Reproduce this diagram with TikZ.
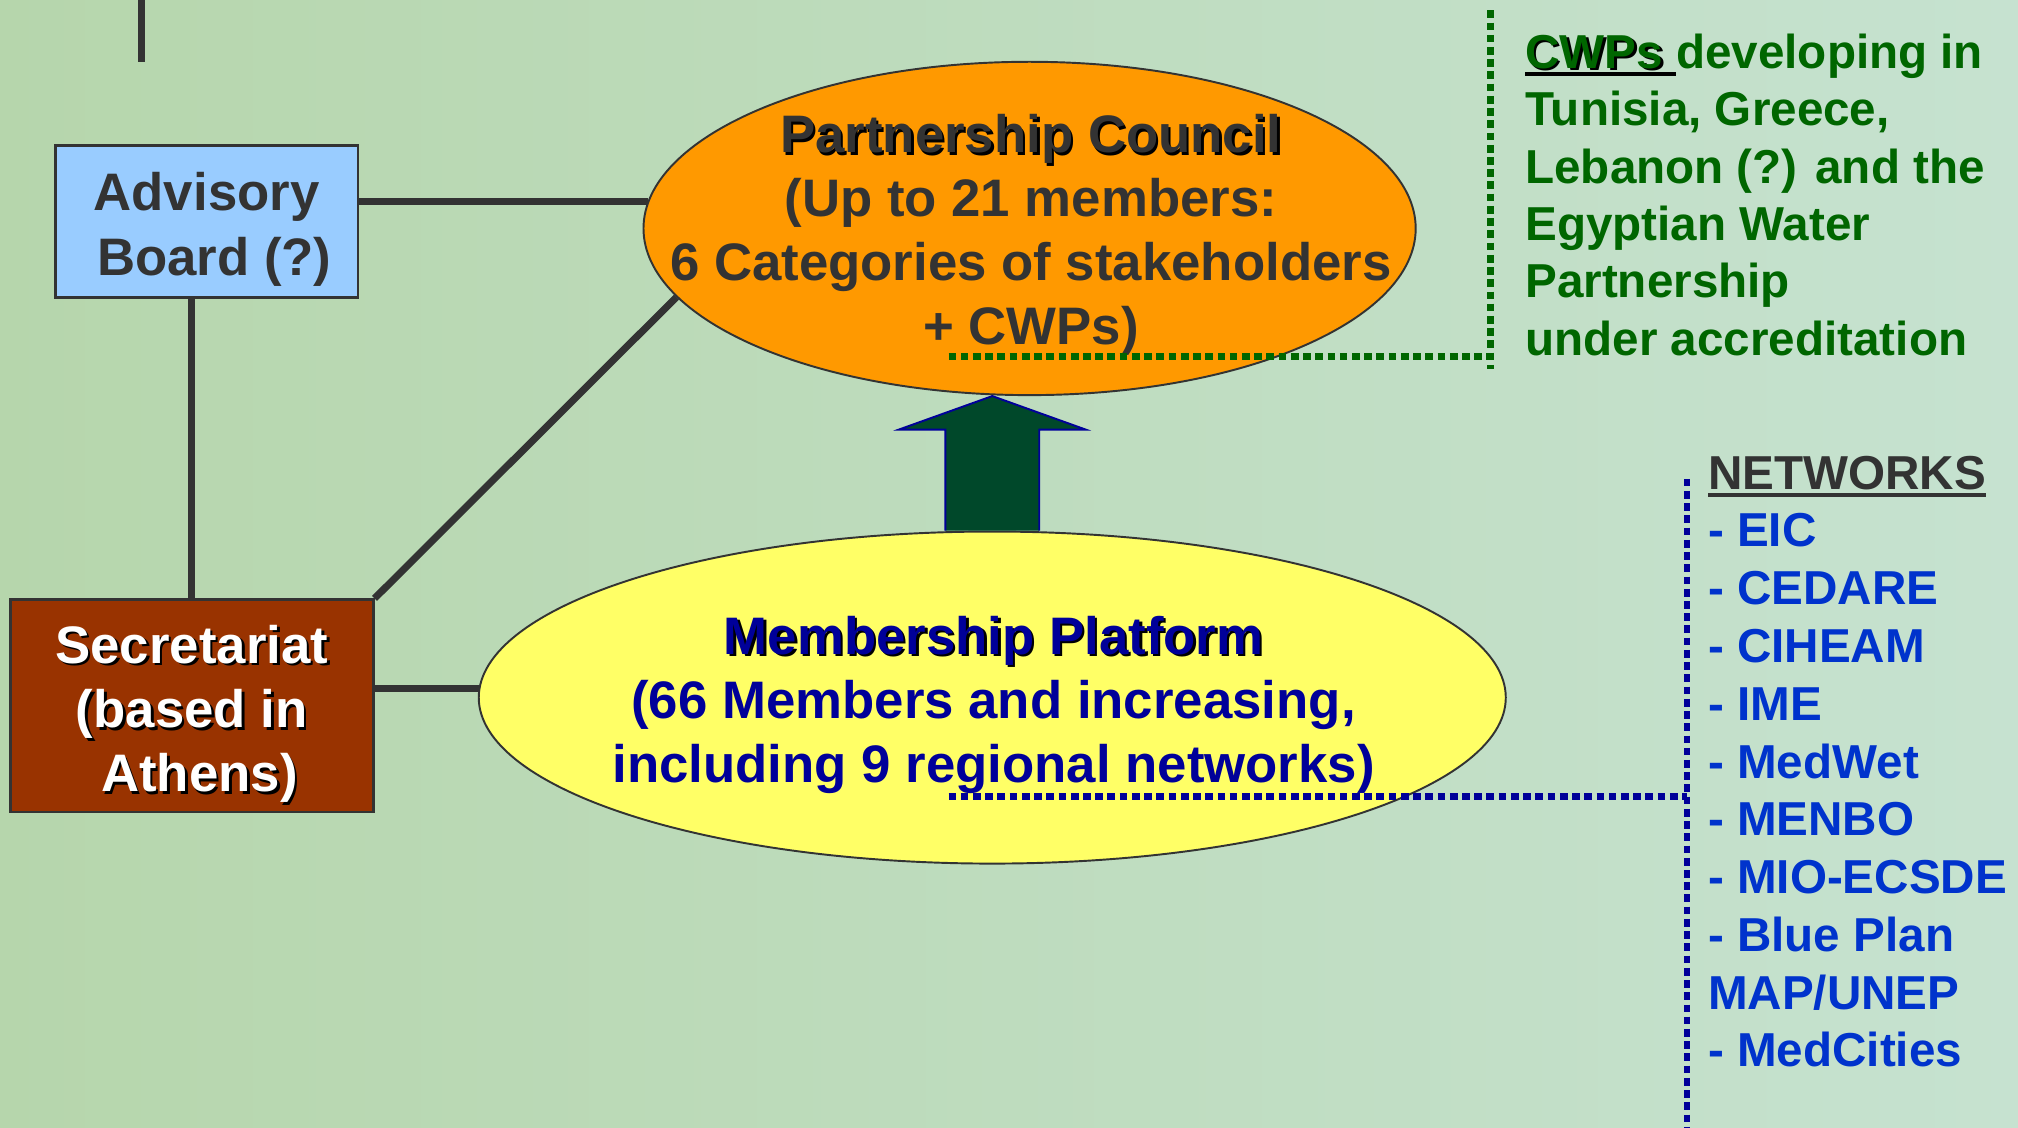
\documentclass[tikz,border=0pt]{standalone}
\usepackage{fontspec}
\setmainfont{Liberation Sans}
\usetikzlibrary{shapes.geometric,calc}
\definecolor{cdark}{HTML}{333333}
\definecolor{corange}{HTML}{FF9900}
\definecolor{cyellow}{HTML}{FFFF66}
\definecolor{cbluebox}{HTML}{99CCFF}
\definecolor{cbrown}{HTML}{993300}
\definecolor{cnavy}{HTML}{000099}
\definecolor{cblueb}{HTML}{0033CC}
\definecolor{cgreen}{HTML}{006600}
\definecolor{carrow}{HTML}{00482A}
\definecolor{bgl}{HTML}{B6D6AC}
\definecolor{bgr}{HTML}{C6E2D0}
\newcommand\shd[2]{\makebox[0pt][l]{\hspace{2pt}\raisebox{-2pt}{\color{black}#2}}{\color{#1}#2}}
\newcommand\ulbar[3]{\setbox0=\hbox{{#3}}\rlap{{\color{#1}\rule[-6pt]{\wd0}{#2}}}\box0}
\begin{document}
\begin{tikzpicture}[x=1pt,y=-1pt,
  conn/.style={draw=cdark,line width=5.5pt},
  boxnode/.style={draw=cdark,line width=2pt,inner sep=0,align=center,font=\fontsize{41}{50}\selectfont\bfseries},
  ell/.style={ellipse,draw=cdark,line width=1.5pt,inner sep=0},
  ltext/.style={inner sep=0,align=center,font=\fontsize{41}{49.6}\selectfont\bfseries},
  side/.style={inner sep=0,align=left,anchor=north west,font=\fontsize{37}{44.6}\selectfont\bfseries},
  gdot/.style={draw=cgreen,line width=5pt,dash pattern=on 6pt off 3.5pt},
  bdot/.style={draw=cnavy,line width=5pt,dash pattern=on 6pt off 3.5pt}]
\useasboundingbox (0,0) rectangle (1568,876);
\shade[left color=bgl,right color=bgr] (0,0) rectangle (1568,876);

% boxes and ellipses
\node[boxnode,fill=cbluebox,minimum width=235pt,minimum height=118pt,text=cdark] (adv) at (160.5,172) {\rule{0pt}{42pt}Advisory\\\hspace*{12pt}Board (?)};
\node[boxnode,fill=cbrown,minimum width=282pt,minimum height=165pt] (sec) at (149,548.5) {\rule{0pt}{44pt}\shd{white}{Secretariat}\\\shd{white}{(based in}\\\hspace*{12pt}\shd{white}{Athens)}};
\node[ell,fill=corange,minimum width=600pt,minimum height=259pt] (pc) at (800,177.5) {};
\node[ltext,text=cdark] (pct) at (801,182.5) {\shd{cdark}{Partnership Council}\\(Up to 21 members:\\6 Categories of stakeholders\\+ CWPs)};
\node[ell,fill=cyellow,minimum width=798pt,minimum height=258pt] (mp) at (771,542) {};
\node[ltext,text=cnavy] (mpt) at (772,547.5) {\shd{cnavy}{Membership Platform}\\(66 Members and increasing,\\including 9 regional networks)};

% connectors
\coordinate (t1) at (110,0);
\coordinate (t2) at (110,48);
\draw[conn] (t1) -- (t2);
\draw[conn] (adv.east |- pc.176.4) -- (pc.176.4);
\draw[conn] (adv.south -| sec.north) -- (sec.north);
\draw[conn] (sec.north east) -- (pc.191.2);
\draw[conn] (sec.east |- mp.179.3) -- (mp.179.3);

% arrow
\draw[draw=cnavy,fill=carrow,line width=1.5pt,line join=miter]
  ($(mp.north)+(-36.5,0)$) -- ($(mp.north |- pc.south)+(-36.5,26)$) -- ($(mp.north |- pc.south)+(-72.5,26)$)
  -- (mp.north |- pc.south) -- ($(mp.north |- pc.south)+(72.5,26)$) -- ($(mp.north |- pc.south)+(36.5,26)$)
  -- ($(mp.north)+(36.5,0)$);

% dotted callout lines
\coordinate (g1) at (737,277);
\coordinate (g2) at (1158,277);
\coordinate (g3) at (1158,8);
\coordinate (g4) at (1158,287);
\draw[gdot] (g1) -- (g2);
\draw[gdot] (g3) -- (g4);
\coordinate (b1) at (737,619);
\coordinate (b2) at (1311,619);
\coordinate (b3) at (1311,372);
\coordinate (b4) at (1311,876);
\draw[bdot] (b1) -- (b2);
\draw[bdot] (b3) -- (b4);

% side texts
\node[side,text=cgreen] (cwp) at (1185,26) {\ulbar{black}{3pt}{\shd{cgreen}{CWPs}\ }developing in\\Tunisia, Greece,\\Lebanon (?) and the\\Egyptian Water\\Partnership\\under accreditation};
\node[side,text=cblueb,font=\fontsize{37}{44.9}\selectfont\bfseries] (net) at (1327,354) {\ulbar{cdark}{3pt}{\textcolor{cdark}{NETWORKS}}\\- EIC\\- CEDARE\\- CIHEAM\\- IME\\- MedWet\\- MENBO\\- MIO-ECSDE\\- Blue Plan\\MAP/UNEP\\- MedCities};
\end{tikzpicture}
\end{document}
